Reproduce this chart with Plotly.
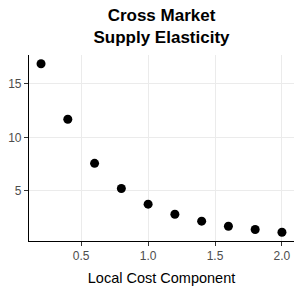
import plotly.graph_objects as go

cost = [0.2, 0.4, 0.6, 0.8, 1.0, 1.2, 1.4, 1.6, 1.8, 2.0]
elasticity = [16.87, 11.69, 7.57, 5.22, 3.76, 2.82, 2.17, 1.70, 1.39, 1.14]
x_ticks = [0.5, 1.0, 1.5, 2.0]
x_tick_labels = ["0.5", "1.0", "1.5", "2.0"]
y_ticks = [5, 10, 15]
y_tick_labels = ["5", "10", "15"]

FONT = "Liberation Sans, Arial, Helvetica, sans-serif"

fig = go.Figure(
    go.Scatter(
        x=cost, y=elasticity, mode="markers",
        marker=dict(color="black", size=9, line=dict(width=0)),
        showlegend=False,
    )
)

fig.update_layout(
    width=294, height=289,
    margin=dict(l=29, r=0, t=55, b=48, autoexpand=False),
    paper_bgcolor="white", plot_bgcolor="white",
    font=dict(family=FONT, color="#4d4d4d", size=12),
    title=dict(
        text="<b>Cross Market<br>Supply Elasticity</b>",
        x=0.5, xref="paper", xanchor="center",
        y=1 - 21 / 289, yref="container", yanchor="middle",
        font=dict(family=FONT, size=17, color="black"),
    ),
)

fig.update_xaxes(
    range=[0.11, 2.09], automargin=False,
    tickvals=x_ticks, ticktext=x_tick_labels,
    showgrid=True, gridcolor="#ebebeb", gridwidth=1.1,
    showline=True, linecolor="black", linewidth=1.1,
    ticks="outside", ticklen=4, tickcolor="#333333", tickwidth=1.1,
    tickfont=dict(size=12, color="#4d4d4d"),
    zeroline=False,
    title=dict(text="Local Cost Component", font=dict(size=14.5, color="black"), standoff=10),
)
fig.update_yaxes(
    range=[0.32, 17.69], automargin=False,
    tickvals=y_ticks, ticktext=y_tick_labels,
    showgrid=True, gridcolor="#ebebeb", gridwidth=1.1,
    showline=True, linecolor="black", linewidth=1.1,
    ticks="outside", ticklen=4, tickcolor="#333333", tickwidth=1.1,
    tickfont=dict(size=12, color="#4d4d4d"),
    zeroline=False,
)

fig.write_html(
    "out.html",
    config={"displayModeBar": False},
    post_script="document.body.style.margin='0';document.body.style.overflow='hidden';",
)
